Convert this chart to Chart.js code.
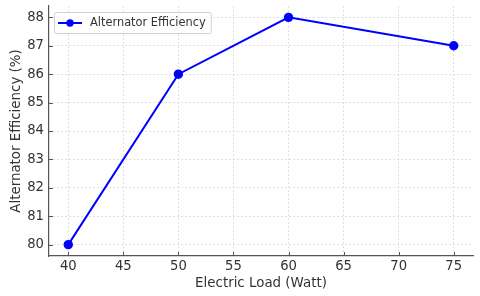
<!DOCTYPE html>
<html>
<head>
<meta charset="utf-8">
<script src="https://cdn.jsdelivr.net/npm/chart.js@4/dist/chart.umd.min.js"></script>
<style>
html,body{margin:0;padding:0;background:#fff;}
#wrap{width:480px;height:296px;position:relative;}
</style>
</head>
<body>
<div id="wrap"><canvas id="c" width="480" height="296"></canvas></div>
<script>
const loads = [40, 50, 60, 75];
const efficiency = [80, 86, 88, 87];
const seriesLabel = 'Alternator Efficiency';
const xTitle = 'Electric Load (Watt)';
const yTitle = 'Alternator Efficiency (%)';
const xTicks = [40, 45, 50, 55, 60, 65, 70, 75];
const yTicks = [80, 81, 82, 83, 84, 85, 86, 87, 88];

const FONT = 'DejaVu Sans';
const TEXT = '#333333';
const SPINE = '#555555';

const innerTicks = {
  id: 'innerTicks',
  afterDraw(chart) {
    const {ctx, chartArea, scales} = chart;
    ctx.save();
    ctx.strokeStyle = SPINE;
    ctx.lineWidth = 1;
    ctx.beginPath();
    xTicks.forEach(v => {
      const x = Math.round(scales.x.getPixelForValue(v)) + 0.5;
      ctx.moveTo(x, chartArea.bottom);
      ctx.lineTo(x, chartArea.bottom - 4);
    });
    yTicks.forEach(v => {
      const y = Math.round(scales.y.getPixelForValue(v)) + 0.5;
      ctx.moveTo(chartArea.left, y);
      ctx.lineTo(chartArea.left + 4, y);
    });
    ctx.stroke();
    ctx.restore();
  }
};

const boxLegend = {
  id: 'boxLegend',
  afterDraw(chart) {
    const {ctx, chartArea} = chart;
    const ds = chart.data.datasets[0];
    ctx.save();
    ctx.font = '11.4px "' + FONT + '"';
    const tw = ctx.measureText(ds.label).width;
    const x0 = chartArea.left + 5, y0 = chartArea.top + 6;
    const w = 36 + tw + 5, h = 21;
    ctx.fillStyle = 'rgba(255,255,255,0.85)';
    ctx.strokeStyle = '#d0d0d0';
    ctx.lineWidth = 1;
    ctx.beginPath();
    if (ctx.roundRect) ctx.roundRect(x0 + 0.5, y0 + 0.5, w, h, 2); else ctx.rect(x0 + 0.5, y0 + 0.5, w, h);
    ctx.fill();
    ctx.stroke();
    const cy = y0 + h / 2 + 0.5;
    ctx.strokeStyle = ds.borderColor;
    ctx.lineWidth = 2;
    ctx.beginPath();
    ctx.moveTo(x0 + 4, cy);
    ctx.lineTo(x0 + 28, cy);
    ctx.stroke();
    ctx.fillStyle = ds.pointBackgroundColor;
    ctx.beginPath();
    ctx.arc(x0 + 16, cy, 3.7, 0, Math.PI * 2);
    ctx.fill();
    ctx.fillStyle = TEXT;
    ctx.textBaseline = 'middle';
    ctx.fillText(ds.label, x0 + 36, cy);
    ctx.restore();
  }
};

new Chart(document.getElementById('c'), {
  type: 'line',
  data: {
    datasets: [{
      label: seriesLabel,
      data: loads.map((x, i) => ({x: x, y: efficiency[i]})),
      borderColor: '#0000ff',
      backgroundColor: '#0000ff',
      pointBackgroundColor: '#0000ff',
      pointBorderColor: '#0000ff',
      borderWidth: 2,
      pointRadius: 3.7,
      pointHoverRadius: 3.7,
      tension: 0,
      fill: false
    }]
  },
  options: {
    responsive: false,
    animation: false,
    events: [],
    layout: {padding: {top: 6, right: 7, left: 0, bottom: 0}},
    plugins: {legend: {display: false}, tooltip: {enabled: false}},
    scales: {
      x: {
        type: 'linear',
        min: 38.25, max: 76.75,
        afterBuildTicks(s) { s.ticks = xTicks.map(v => ({value: v})); },
        afterFit(s) { s.height = 40; s.paddingLeft = 0; s.paddingRight = 0; },
        grid: {color: '#d8d8d8', lineWidth: 0.8, drawTicks: false},
        border: {display: true, color: SPINE, width: 1.2, dash: [2, 2]},
        ticks: {color: TEXT, font: {family: FONT, size: 13.2}, padding: 3, maxRotation: 0},
        title: {display: true, text: xTitle, color: TEXT, font: {family: FONT, size: 13.4}, padding: {top: 0, bottom: 4}}
      },
      y: {
        type: 'linear',
        min: 79.6, max: 88.4,
        afterBuildTicks(s) { s.ticks = yTicks.map(v => ({value: v})); },
        afterFit(s) { s.width = 49; s.paddingTop = 0; s.paddingBottom = 0; },
        grid: {color: '#d8d8d8', lineWidth: 0.8, drawTicks: false},
        border: {display: true, color: SPINE, width: 1.2, dash: [2, 2]},
        ticks: {color: TEXT, font: {family: FONT, size: 13.2}, padding: 5},
        title: {display: true, text: yTitle, color: TEXT, font: {family: FONT, size: 13.4}, padding: {top: 8, bottom: 0}}
      }
    }
  },
  plugins: [innerTicks, boxLegend]
});
</script>
</body>
</html>
